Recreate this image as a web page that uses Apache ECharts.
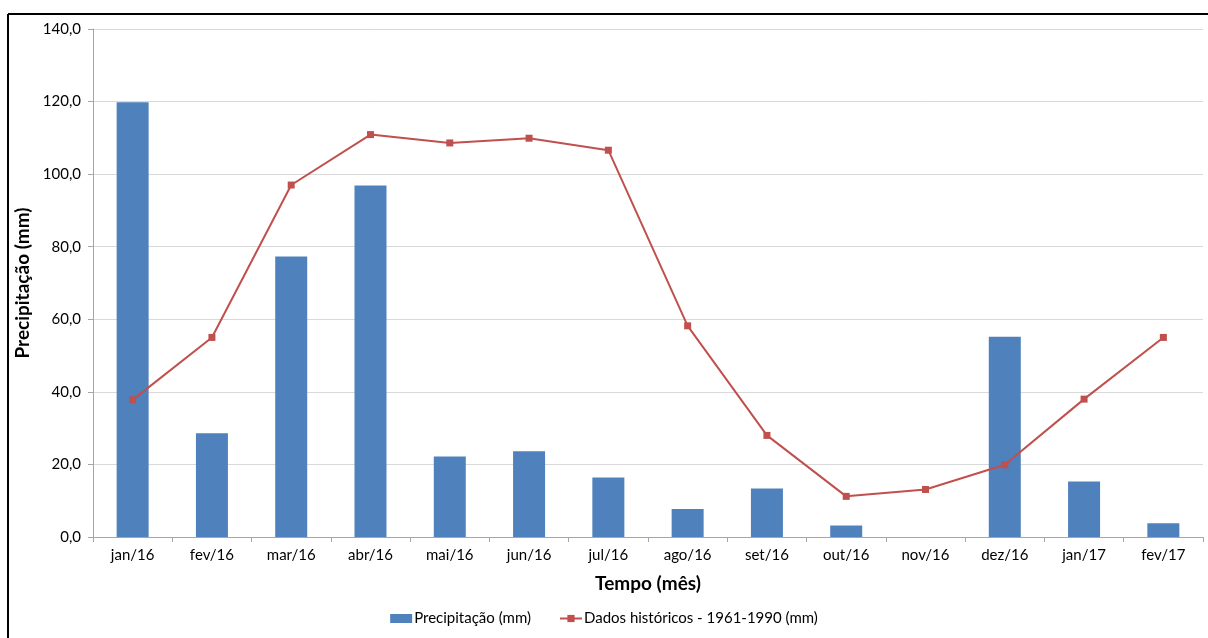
<!DOCTYPE html>
<html>
<head>
<meta charset="utf-8">
<script src="https://cdn.jsdelivr.net/npm/echarts@6/dist/echarts.min.js"></script>
<style>
html,body{margin:0;padding:0;background:#fff;}
#c{width:1208px;height:638px;}
</style>
</head>
<body>
<div id="c"></div>
<script>
const categories = ['jan/16','fev/16','mar/16','abr/16','mai/16','jun/16','jul/16','ago/16','set/16','out/16','nov/16','dez/16','jan/17','fev/17'];
const precipitacao = [119.8, 28.6, 77.3, 96.9, 22.2, 23.6, 16.4, 7.7, 13.4, 3.2, 0, 55.2, 15.3, 3.8];
const historicos = [37.8, 55.0, 97.0, 110.9, 108.6, 109.9, 106.6, 58.2, 28.0, 11.2, 13.1, 19.9, 38.0, 55.0];
const yTicks = [0, 20, 40, 60, 80, 100, 120, 140];

const FONT = 'Lato, "Open Sans", sans-serif';
const chart = echarts.init(document.getElementById('c'), null, {renderer: 'canvas'});
chart.setOption({
  animation: false,
  backgroundColor: '#fff',
  graphic: [
    {type: 'line', shape: {x1: 8, y1: 14, x2: 1208, y2: 14}, style: {stroke: '#000', lineWidth: 2}},
    {type: 'line', shape: {x1: 8, y1: 14, x2: 8, y2: 638}, style: {stroke: '#000', lineWidth: 2}}
  ],
  grid: {left: 93, right: 5, top: 29, bottom: 101, containLabel: false},
  legend: {
    bottom: 7,
    left: 'center',
    itemGap: 28,
    itemWidth: 22,
    itemHeight: 9,
    textStyle: {fontFamily: FONT, fontSize: 15, color: '#000', padding: [0, 0, 0, -3]},
    data: [
      {name: 'Precipitação (mm)', icon: 'rect'},
      {name: 'Dados históricos - 1961-1990 (mm)'}
    ]
  },
  xAxis: {
    type: 'category',
    data: categories,
    name: 'Tempo (mês)',
    nameLocation: 'middle',
    nameGap: 37,
    nameTextStyle: {fontFamily: FONT, fontSize: 19, fontWeight: 'bold', color: '#000'},
    axisLine: {lineStyle: {color: '#a6a6a6', width: 1}},
    axisTick: {show: true, length: 5, lineStyle: {color: '#a6a6a6'}},
    axisLabel: {fontFamily: FONT, fontSize: 15, color: '#000', margin: 11},
    splitLine: {show: false}
  },
  yAxis: {
    type: 'value',
    min: 0,
    max: 140,
    interval: 20,
    name: 'Precipitação (mm)',
    nameLocation: 'middle',
    nameGap: 53,
    nameRotate: 90,
    nameTextStyle: {fontFamily: FONT, fontSize: 19, fontWeight: 'bold', color: '#000'},
    axisLine: {show: true, lineStyle: {color: '#a6a6a6', width: 1}},
    axisTick: {show: true, length: 5, lineStyle: {color: '#a6a6a6'}},
    axisLabel: {
      fontFamily: FONT, fontSize: 15, color: '#000', margin: 12,
      formatter: v => yTicks.includes(v) ? v.toFixed(1).replace('.', ',') : ''
    },
    splitLine: {lineStyle: {color: '#d9d9d9', width: 1}}
  },
  series: [
    {
      name: 'Precipitação (mm)',
      type: 'bar',
      data: precipitacao,
      barWidth: 32,
      itemStyle: {color: '#4F81BD'}
    },
    {
      name: 'Dados históricos - 1961-1990 (mm)',
      type: 'line',
      data: historicos,
      symbol: 'rect',
      symbolSize: 7,
      lineStyle: {color: '#C0504D', width: 2},
      itemStyle: {color: '#C0504D'}
    }
  ]
});
</script>
</body>
</html>
